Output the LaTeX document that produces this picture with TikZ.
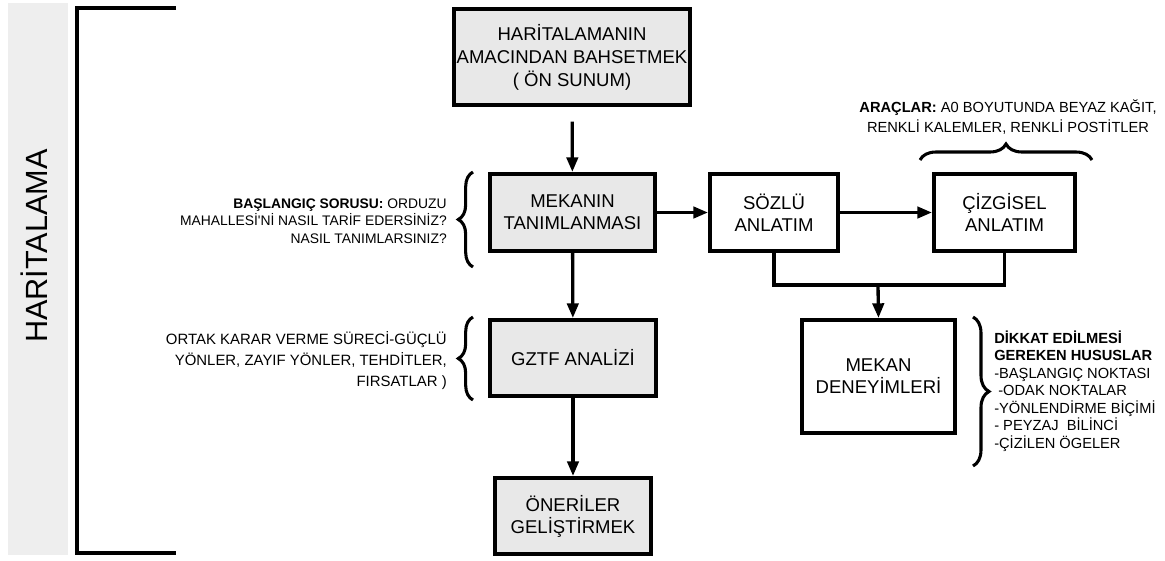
\documentclass[tikz,border=0pt]{standalone}
\usepackage{fontspec}
\setmainfont{Liberation Sans}[Ligatures=TeXOff]
\usetikzlibrary{arrows.meta,decorations.pathreplacing}
\definecolor{kutugri}{HTML}{E8E8E8}
\definecolor{bantgri}{HTML}{EEEEEE}

\begin{document}
\begin{tikzpicture}[x=0.75pt,y=-0.75pt,
  every node/.style={font=\fontsize{13.9}{16.5}\selectfont},
  kutu/.style={draw,line width=3pt,align=center,inner sep=0pt},
  gkutu/.style={kutu,fill=kutugri},
  ok/.style={line width=2.5pt,-{Triangle[length=11pt,width=8.5pt]}},
  hat/.style={line width=2.5pt},
  kiv/.style={line width=2.3pt,decorate,decoration={brace,amplitude=#1}},
  aciklama/.style={font=\fontsize{10.4}{13.2}\selectfont,inner sep=0pt}]
\useasboundingbox (0,0) rectangle (1165,561);
% sol bant ve buyuk koseli parantez
\fill[bantgri] (8,3) rectangle (68,555);
\node[rotate=90,font=\fontsize{23}{23}\selectfont] (baslik) at (34,246) {HARİTALAMA};
\draw[line width=3pt] (176,8) -| (77,553) -- (176,553);

% kutular
\node[gkutu,minimum width=177pt,minimum height=72pt,font=\fontsize{13.9}{17.25}\selectfont] (amac) at (572,57) {HARİTALAMANIN\\AMACINDAN BAHSETMEK\\( ÖN SUNUM)};
\node[gkutu,minimum width=123.8pt,minimum height=57.8pt] (mekan) at (572.5,212.5) {MEKANIN\\TANIMLANMASI};
\node[kutu,minimum width=96pt,minimum height=57.8pt] (sozlu) at (774,212.5) {SÖZLÜ\\ANLATIM};
\node[kutu,minimum width=105.8pt,minimum height=57.8pt] (cizgi) at (1004.5,212.5) {ÇİZGİSEL\\ANLATIM};
\node[gkutu,minimum width=124.5pt,minimum height=57pt] (gztf) at (573,358) {GZTF ANALİZİ};
\node[gkutu,minimum width=117pt,minimum height=57pt] (oneri) at (573,516) {ÖNERİLER\\GELİŞTİRMEK};
\node[kutu,minimum width=114.8pt,minimum height=84.8pt] (deney) at (878.5,376.5) {MEKAN\\DENEYİMLERİ};

% oklar
\draw[ok,shorten <=11pt] (amac) -- (mekan);
\draw[ok] (mekan) -- (sozlu);
\draw[ok] (sozlu) -- (cizgi);
\draw[ok] (mekan) -- (gztf);
\draw[ok] (gztf) -- (oneri);
\coordinate (birles) at (878,285);
\draw[hat] (sozlu.south) |- (birles) -| (cizgi.south);
\draw[ok] (birles) -- (deney.north);

% kivircik parantezler
\draw[kiv=11pt] (473,267) -- (473,172);
\draw[kiv=11pt] (473,400) -- (473,317);
\draw[kiv=12pt] (920,160) -- (1092,160);
\draw[kiv=12pt] (973,317) -- (973,466);

% aciklamalar
\node[aciklama,anchor=east,align=right] (soru) at (447,221) {\textbf{BAŞLANGIÇ SORUSU:} ORDUZU\\MAHALLESİ'Nİ NASIL TARİF EDERSİNİZ?\\NASIL TANIMLARSINIZ?};
\node[aciklama,anchor=east,align=right,font=\fontsize{11.2}{15.75}\selectfont] (ortak) at (447,361) {ORTAK KARAR VERME SÜRECİ-GÜÇLÜ\\YÖNLER, ZAYIF YÖNLER, TEHDİTLER,\\FIRSATLAR )};
\node[aciklama,align=center,font=\fontsize{11}{15}\selectfont] (arac) at (1008,117) {\textbf{ARAÇLAR:} A0 BOYUTUNDA BEYAZ KAĞIT,\\RENKLİ KALEMLER, RENKLİ POSTİTLER};
\node[aciklama,anchor=west,align=left,font=\fontsize{11}{13.1}\selectfont] (dikkat) at (994,391) {\textbf{DİKKAT EDİLMESİ}\\\textbf{GEREKEN HUSUSLAR}\\-BAŞLANGIÇ NOKTASI\\\ -ODAK NOKTALAR\\-YÖNLENDİRME BİÇİMİ\\- PEYZAJ\ \ BİLİNCİ\\-ÇİZİLEN ÖGELER};
\end{tikzpicture}
\end{document}
